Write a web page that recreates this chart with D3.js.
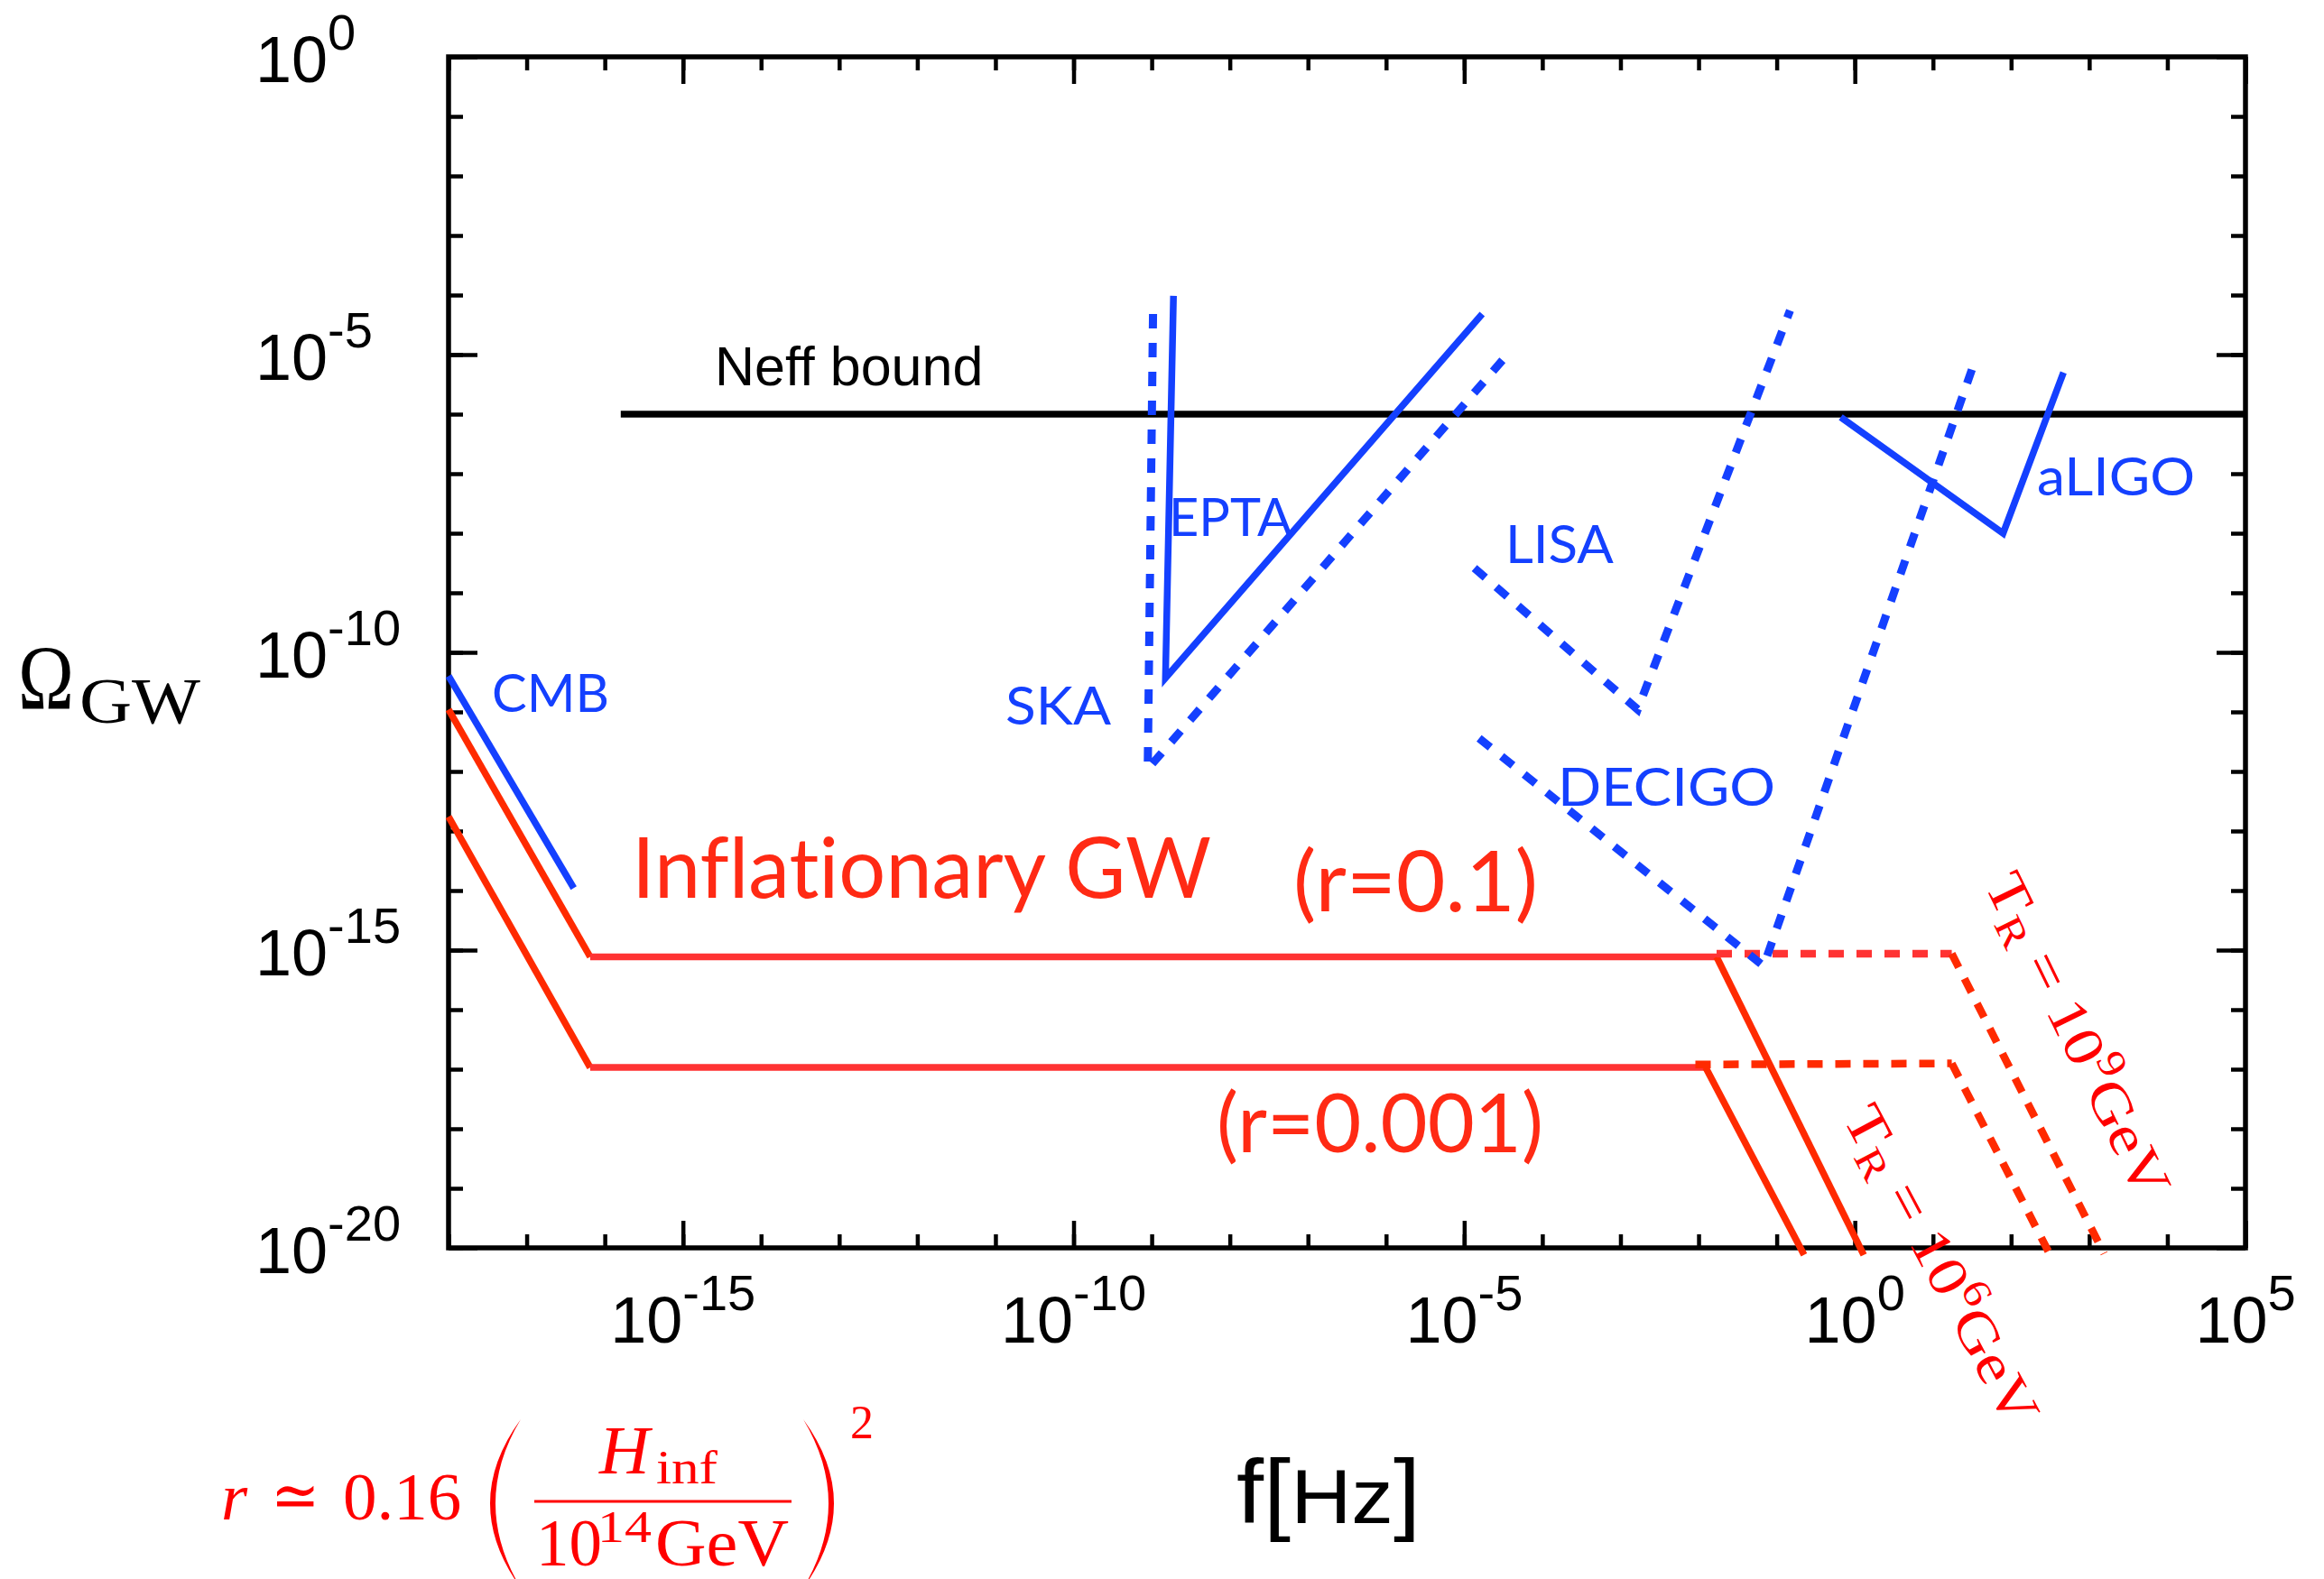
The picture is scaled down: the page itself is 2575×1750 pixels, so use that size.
<!DOCTYPE html>
<html>
<head>
<meta charset="utf-8">
<script src="https://cdn.jsdelivr.net/npm/d3@7"></script>
<style>
  html, body { margin: 0; padding: 0; background: #fff; }
  svg { display: block; }
  text { font-variant-ligatures: none; font-feature-settings: "liga" 0, "clig" 0, "dlig" 0; }
</style>
</head>
<body>
<svg id="chart" width="2575" height="1750"></svg>
<script>
// ---- Data: [frequency in Hz, Omega_GW] ----
const neffBound   = [[1.6e-16, 1.0e-6], [1e5, 1.0e-6]];
const cmb         = [[1e-18, 4.0e-11], [4.0e-17, 1.1e-14]];
const epta        = [[1.9e-9, 9.7e-5], [1.5e-9, 3.7e-11], [1.7e-5, 4.8e-5]];
const ska         = [[1.04e-9, 4.8e-5], [8.9e-10, 1.1e-12], [3.4e-5, 9.3e-6]];
const lisa        = [[1.35e-5, 2.6e-9], [1.66e-3, 1.1e-11], [0.148, 5.5e-5]];
const decigo      = [[1.55e-5, 3.6e-12], [6.8e-2, 5.4e-16], [36, 9.3e-6]];
const aligo       = [[0.66, 8.9e-7], [79, 1.0e-8], [468, 5.0e-6]];

// Inflationary GW spectra, T_R = 10^6 GeV (solid) and T_R = 10^9 GeV (dashed)
const gwR01       = [[1e-18, 1.1e-11], [6.5e-17, 7.7e-16], [1.7e-2, 7.7e-16], [1.3, 7.6e-21]];
const gwR01Tr9    = [[1.7e-2, 8.7e-16], [17.4, 8.7e-16], [1.55e3, 8.0e-21]];
const gwR0001     = [[1e-18, 1.74e-13], [6.5e-17, 1.07e-17], [1.23e-2, 1.07e-17], [0.224, 7.6e-21]];
const gwR0001Tr9  = [[9.1e-3, 1.2e-17], [17.4, 1.25e-17], [316, 7.6e-21]];

// Axis tick labels (powers of ten)
const xMajorTicks = [1e-15, 1e-10, 1e-5, 1, 1e5];
const xTickExps   = ["-15", "-10", "-5", "0", "5"];
const yMajorTicks = [1, 1e-5, 1e-10, 1e-15, 1e-20];
const yTickExps   = ["0", "-5", "-10", "-15", "-20"];

// ---- Layout & style ----
const plot = { left: 497, right: 2488, top: 63, bottom: 1383 };
const BLUE = "#1440ff";
const RED_FLAT = "#ff3333";
const RED_SLOPE = "#ff2a00";
const RED_TEXT = "#ff2a14";
const RED_MATH = "#ff0000";
const SANS = "'Liberation Sans', Arial, Helvetica, sans-serif";
const HUMAN = "Lato, 'Open Sans', sans-serif";
const SERIF = "'Liberation Serif', 'Times New Roman', 'DejaVu Serif', serif";

const x = d3.scaleLog().domain([1e-18, 1e5]).range([plot.left, plot.right]);
const y = d3.scaleLog().domain([1e-20, 1]).range([plot.bottom, plot.top]);
const line = d3.line().x(d => x(d[0])).y(d => y(d[1]));

const svg = d3.select("#chart");
svg.append("rect").attr("width", 2575).attr("height", 1750).attr("fill", "#fff");

// ---- Frame and ticks ----
const decades = d3.range(-18, 6).map(e => Math.pow(10, e));
const decadesY = d3.range(-20, 1).map(e => Math.pow(10, e));

function tickGroup(axis, tx, ty, values, size) {
  svg.append("g")
    .attr("transform", `translate(${tx},${ty})`)
    .call(axis.tickValues(values).tickSize(size).tickSizeOuter(0).tickFormat(""))
    .call(g => g.select(".domain").remove())
    .call(g => g.selectAll("line").attr("stroke", "#000").attr("stroke-width", 4.5));
}
const MINOR = -15, MAJOR = -30;
tickGroup(d3.axisBottom(x), 0, plot.bottom, decades, MINOR);
tickGroup(d3.axisBottom(x), 0, plot.bottom, xMajorTicks, MAJOR);
tickGroup(d3.axisTop(x), 0, plot.top, decades, MINOR);
tickGroup(d3.axisTop(x), 0, plot.top, xMajorTicks, MAJOR);
tickGroup(d3.axisLeft(y), plot.left, 0, decadesY, -16);
tickGroup(d3.axisLeft(y), plot.left, 0, yMajorTicks, -32);
tickGroup(d3.axisRight(y), plot.right, 0, decadesY, -16);
tickGroup(d3.axisRight(y), plot.right, 0, yMajorTicks, -32);

svg.append("rect")
  .attr("x", plot.left).attr("y", plot.top)
  .attr("width", plot.right - plot.left).attr("height", plot.bottom - plot.top)
  .attr("fill", "none").attr("stroke", "#000").attr("stroke-width", 5.5);

// ---- Tick labels ----
xMajorTicks.forEach((v, i) => {
  const t = svg.append("text")
    .attr("x", x(v)).attr("y", plot.bottom + 105)
    .attr("text-anchor", "middle").attr("font-family", SANS).attr("font-size", 72).attr("fill", "#000");
  t.append("tspan").text("10");
  t.append("tspan").attr("dy", -36).attr("font-size", 56).text(xTickExps[i]);
});
yMajorTicks.forEach((v, i) => {
  const t = svg.append("text")
    .attr("x", 283).attr("y", y(v) + 28)
    .attr("text-anchor", "start").attr("font-family", SANS).attr("font-size", 72).attr("fill", "#000");
  t.append("tspan").text("10");
  t.append("tspan").attr("dy", -36).attr("font-size", 56).text(yTickExps[i]);
});

// ---- Curves ----
function drawPath(data, color, width, dash) {
  svg.append("path")
    .datum(data)
    .attr("d", line)
    .attr("fill", "none")
    .attr("stroke", color)
    .attr("stroke-width", width)
    .attr("stroke-linejoin", "miter")
    .attr("stroke-linecap", "butt")
    .attr("stroke-dasharray", dash || null);
}

// Neff bound
drawPath(neffBound, "#000", 7.5);

// Inflationary spectra: flat pieces and falling pieces coloured separately
function drawSpectrum(data, dash) {
  d3.pairs(data).forEach(seg => {
    const flat = seg[0][1] === seg[1][1];
    drawPath(seg, flat ? RED_FLAT : RED_SLOPE, dash ? 8.5 : 7.5, dash);
  });
}
drawSpectrum(gwR01);
drawSpectrum(gwR0001);
drawSpectrum(gwR01Tr9, "17,14");
drawSpectrum(gwR0001Tr9, "17,14");

// Detector sensitivities
drawPath(cmb, BLUE, 7.5);
drawPath(epta, BLUE, 7.5);
drawPath(aligo, BLUE, 7.5);
drawPath(ska, BLUE, 9, "16,16");
drawPath(lisa, BLUE, 9, "16,16");
drawPath(decigo, BLUE, 9, "16,16");

// ---- In-plot labels ----
function label(txt, px, py, size, color, family, len) {
  const t = svg.append("text")
    .attr("x", px).attr("y", py)
    .attr("font-family", family).attr("font-size", size).attr("fill", color)
    .text(txt);
  if (len) t.attr("textLength", len).attr("lengthAdjust", "spacingAndGlyphs");
  return t;
}
label("Neff bound", 792, 427, 61, "#000", SANS);
label("CMB", 545, 789, 58, BLUE, HUMAN, 130);
label("EPTA", 1295, 594, 58, BLUE, HUMAN, 137);
label("SKA", 1114, 803, 58, BLUE, HUMAN, 117);
label("LISA", 1668, 624, 58, BLUE, HUMAN, 120);
label("DECIGO", 1726, 893, 58, BLUE, HUMAN, 241);
label("aLIGO", 2257, 549, 58, BLUE, HUMAN, 175);

label("Inflationary GW", 700, 995, 93, RED_TEXT, HUMAN, 642);
label("(r=0.1)", 1433, 1010, 93, RED_TEXT, HUMAN, 271);
label("(r=0.001)", 1348, 1277, 91, RED_TEXT, HUMAN, 362);

// Reheating temperature labels along the falling branches
function trLabel(cx, cy, angle, exp) {
  const t = svg.append("text")
    .attr("transform", `translate(${cx},${cy}) rotate(${angle})`)
    .attr("x", 0).attr("y", 18)
    .attr("text-anchor", "middle")
    .attr("font-family", SERIF).attr("font-size", 62).attr("fill", RED_MATH)
    .attr("textLength", 392).attr("lengthAdjust", "spacingAndGlyphs");
  t.append("tspan").text("T");
  t.append("tspan").attr("font-size", 44).attr("dy", 10).text("R");
  t.append("tspan").attr("dy", -10).text("\u00a0=\u00a010");
  t.append("tspan").attr("font-size", 44).attr("dy", -26).text(exp);
  t.append("tspan").attr("dy", 26).text("GeV");
}
trLabel(2300, 1148, 64, "9");
trLabel(2149, 1403, 62, "6");

// ---- Axis titles ----
label("\u03A9", 20, 786, 102, "#000", SERIF, 62);
label("GW", 88, 801, 72, "#000", SERIF, 134);

const fx = svg.append("text")
  .attr("x", 1370).attr("y", 1688)
  .attr("font-family", SANS).attr("font-size", 100).attr("fill", "#000")
  .attr("textLength", 204).attr("lengthAdjust", "spacingAndGlyphs");
fx.append("tspan").text("f[");
fx.append("tspan").attr("font-size", 86).text("Hz");
fx.append("tspan").text("]");

// ---- Tensor-to-scalar ratio relation ----
label("r", 245, 1684, 75, RED_MATH, SERIF).attr("font-style", "italic");
label("\u2243", 300, 1682, 72, RED_MATH, SERIF, 54);
label("0.16", 380, 1684, 75, RED_MATH, SERIF);
svg.append("path")
  .attr("d", "M577,1573 Q509,1666 577,1760 Q521,1666 577,1573 Z")
  .attr("fill", RED_MATH);
svg.append("path")
  .attr("d", "M890,1573 Q958,1666 890,1760 Q946,1666 890,1573 Z")
  .attr("fill", RED_MATH);
label("H", 664, 1633, 77, RED_MATH, SERIF).attr("font-style", "italic");
label("inf", 727, 1644, 52, RED_MATH, SERIF, 68);
svg.append("rect").attr("x", 592).attr("y", 1662.5).attr("width", 285).attr("height", 3).attr("fill", RED_MATH);
label("10", 594, 1735, 73, RED_MATH, SERIF);
label("14", 662, 1709, 50, RED_MATH, SERIF, 60);
label("GeV", 726, 1735, 73, RED_MATH, SERIF, 148);
label("2", 942, 1594, 52, RED_MATH, SERIF);
</script>
</body>
</html>
